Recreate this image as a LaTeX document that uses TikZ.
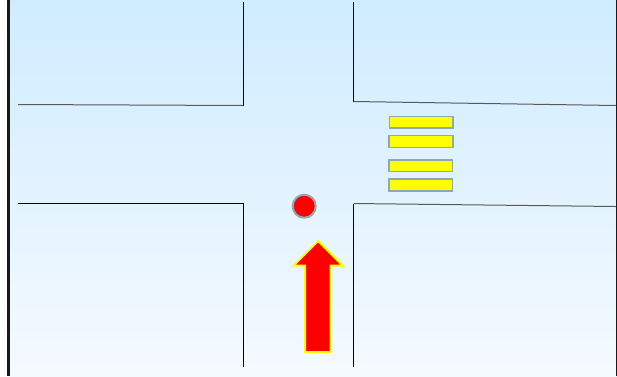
\documentclass[tikz,border=0pt]{standalone}
\definecolor{skytop}{HTML}{CFECFF}
\definecolor{skybottom}{HTML}{F5FAFF}
\definecolor{outline}{HTML}{8FA9B0}
\definecolor{pureyellow}{HTML}{FFFF00}
\definecolor{purered}{HTML}{FF0000}
\begin{document}
\begin{tikzpicture}[x=1pt,y=-1pt,
  road/.style={draw=black,line width=1pt,line join=miter},
  slant/.style={draw=black!65,line width=1pt,line join=miter},
  bar/.style={draw=outline,fill=pureyellow,line width=1.5pt},
  frame/.style={draw=black!90,line width=2pt}]
\useasboundingbox (0,0) rectangle (617,376);
\fill[white] (0,0) rectangle (617,376);
\shade[top color=skytop,bottom color=skybottom] (8,0) rectangle (617,376);
\draw[frame,line width=2.6pt] (8.7,0) -- (8.7,376);
\draw[frame,line width=1.3pt] (616.4,0) -- (616.4,376);
% streets
\draw[slant] (18,104.5) -- (243.5,105.5);
\draw[road] (243.5,105.5) -- (243.5,2);
\draw[road] (353.5,2) -- (353.5,101.5);
\draw[slant] (353.5,101.5) -- (616,105.5);
\draw[road] (18,203.5) -- (243.5,203.5) -- (243.5,367);
\draw[road] (353.5,367) -- (353.5,203.5);
\draw[slant] (353.5,203.5) -- (616,206.5);
% crossing bars
\draw[bar] (389.5,116.5) rectangle (453.2,128.2);
\draw[bar] (389.2,135.5) rectangle (452.8,147.5);
\draw[bar] (388.8,159.8) rectangle (452.5,171.5);
\draw[bar] (388.8,178.8) rectangle (452.5,191);
% marker
\node[circle,draw=outline,fill=purered,line width=2pt,minimum size=23pt,inner sep=0pt] (dot) at (304.2,206.2) {};
% arrow
\draw[draw=pureyellow,fill=purered,line width=2pt,line join=miter]
  (318,241) -- (342.6,265.5) -- (330.5,265.5) -- (330.5,352) -- (305,352) -- (305,265.5) -- (293.4,265.5) -- cycle;
\end{tikzpicture}
\end{document}
